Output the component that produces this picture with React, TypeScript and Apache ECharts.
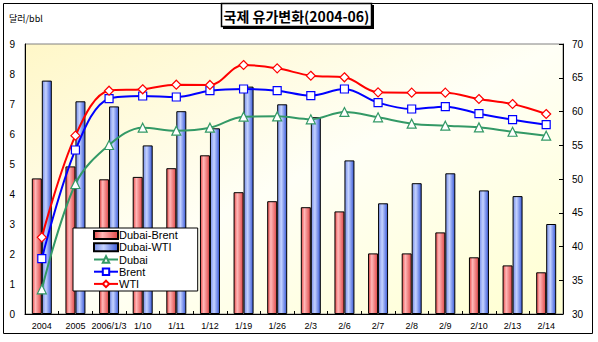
import React, { useEffect, useRef } from "react";
import * as echarts from "echarts";

const categories = ["2004", "2005", "2006/1/3", "1/10", "1/11", "1/12", "1/19", "1/26", "2/3", "2/6", "2/7", "2/8", "2/9", "2/10", "2/13", "2/14"];
const dubaiBrent = [4.52, 4.92, 4.49, 4.57, 4.86, 5.29, 4.06, 3.76, 3.56, 3.42, 2.02, 2.02, 2.72, 1.89, 1.62, 1.39];
const dubaiWti = [7.78, 7.09, 6.92, 5.62, 6.76, 6.19, 7.58, 6.99, 6.56, 5.12, 3.69, 4.36, 4.69, 4.12, 3.93, 3.0];
const dubai = [33.66, 49.26, 55.04, 57.6, 57.16, 57.6, 59.23, 59.28, 58.84, 59.93, 59.14, 58.2, 57.9, 57.65, 57.0, 56.42];
const brent = [38.2, 54.3, 61.9, 62.3, 62.15, 63.08, 63.33, 63.08, 62.35, 63.33, 61.31, 60.37, 60.72, 59.68, 58.79, 58.05];
const wti = [41.36, 56.42, 63.08, 63.29, 63.97, 63.93, 66.89, 66.4, 65.3, 65.07, 62.84, 62.79, 62.79, 61.85, 61.11, 59.63];

const FONT = "Liberation Sans";

export default function App() {
  const ref = useRef<HTMLDivElement>(null);
  useEffect(() => {
    if (!ref.current) return;
    const chart = echarts.init(ref.current, null, { renderer: "svg" });
    const redGrad = new echarts.graphic.LinearGradient(0, 0, 1, 0, [
      { offset: 0, color: "#E84A4A" },
      { offset: 0.35, color: "#FFB8B8" },
      { offset: 1, color: "#E04848" },
    ]);
    const blueGrad = new echarts.graphic.LinearGradient(0, 0, 1, 0, [
      { offset: 0, color: "#7890E8" },
      { offset: 0.4, color: "#C4D2FF" },
      { offset: 1, color: "#3A5AD8" },
    ]);
    const lineSeries = (name: string, data: number[], color: string, symbol: string, size: number) => ({
      name,
      type: "line",
      yAxisIndex: 1,
      data,
      smooth: 0.35,
      symbol,
      symbolSize: size,
      showAllSymbol: true,
      lineStyle: { color, width: 2 },
      itemStyle: { color: "#FFFFFF", borderColor: color, borderWidth: 1.2 },
      z: 5,
    });
    chart.setOption({
      animation: false,
      grid: {
        left: 25,
        right: 35,
        top: 44,
        bottom: 28,
        show: true,
        borderColor: "#808080",
        borderWidth: 1,
        backgroundColor: new echarts.graphic.LinearGradient(0, 0, 1, 1, [
          { offset: 0, color: "#FFF7C8" },
          { offset: 0.5, color: "#FFFFF6" },
          { offset: 1, color: "#FFFFD0" },
        ]),
      },
      graphic: [
        { type: "rect", shape: { x: 3.5, y: 3.5, width: 589, height: 330 }, style: { fill: "none", stroke: "#000", lineWidth: 1 }, z: -10 },
        { type: "rect", shape: { x: 223, y: 5, width: 151, height: 24 }, style: { fill: "#000" }, z: 10 },
        { type: "rect", shape: { x: 221.5, y: 3.5, width: 150, height: 23 }, style: { fill: "#fff", stroke: "#000", lineWidth: 1.5 }, z: 11 },
        {
          type: "text",
          x: 296.5,
          y: 15.5,
          style: { text: "국제 유가변화(2004-06)", font: "bold 14px 'Noto Sans CJK KR'", fill: "#000", align: "center", verticalAlign: "middle" },
          z: 12,
        },
        {
          type: "text",
          x: 9,
          y: 18,
          style: { text: "달러/bbl", font: "9px 'Noto Sans CJK KR'", fill: "#000", align: "left", verticalAlign: "middle" },
        },
      ],
      legend: {
        orient: "vertical",
        left: 73,
        top: 228,
        padding: [1, 20, 1, 20],
        itemGap: 0,
        itemWidth: 24,
        itemHeight: 8,
        backgroundColor: "#FFFFFF",
        borderColor: "#000",
        borderWidth: 1,
        textStyle: { fontFamily: FONT, fontSize: 11, color: "#000", padding: [0, 0, 0, -4], lineHeight: 12.2 },
        data: [
          { name: "Dubai-Brent", icon: "rect" },
          { name: "Dubai-WTI", icon: "rect" },
          "Dubai",
          "Brent",
          "WTI",
        ],
      },
      xAxis: {
        type: "category",
        data: categories,
        axisLine: { lineStyle: { color: "#000", width: 1 } },
        axisTick: { show: true, inside: true, length: 3, lineStyle: { color: "#000" } },
        axisLabel: { fontFamily: FONT, fontSize: 9, color: "#000", margin: 7, interval: 0 },
      },
      yAxis: [
        {
          type: "value",
          min: 0,
          max: 9,
          interval: 1,
          axisLine: { show: true, lineStyle: { color: "#000" } },
          axisTick: { show: false },
          splitLine: { show: false },
          axisLabel: { fontFamily: FONT, fontSize: 10, color: "#000", margin: 10 },
        },
        {
          type: "value",
          min: 30,
          max: 70,
          interval: 5,
          position: "right",
          axisLine: { show: true, lineStyle: { color: "#000" } },
          axisTick: { show: true, inside: true, length: 4, lineStyle: { color: "#000" } },
          splitLine: { show: false },
          axisLabel: { fontFamily: FONT, fontSize: 10, color: "#000", margin: 9 },
        },
      ],
      series: [
        {
          name: "Dubai-Brent",
          type: "bar",
          data: dubaiBrent,
          barWidth: 10,
          barGap: "0%",
          itemStyle: { color: redGrad, borderColor: "#000", borderWidth: 1 },
        },
        {
          name: "Dubai-WTI",
          type: "bar",
          data: dubaiWti,
          barWidth: 10,
          barGap: "0%",
          itemStyle: { color: blueGrad, borderColor: "#000", borderWidth: 1 },
        },
        lineSeries("Dubai", dubai, "#339966", "triangle", 9),
        lineSeries("Brent", brent, "#0000FF", "rect", 8),
        lineSeries("WTI", wti, "#FF0000", "diamond", 9),
      ],
    });
    return () => chart.dispose();
  }, []);
  return <div ref={ref} style={{ position: "fixed", left: 0, top: 0, width: 598, height: 342, background: "#fff" }} />;
}
